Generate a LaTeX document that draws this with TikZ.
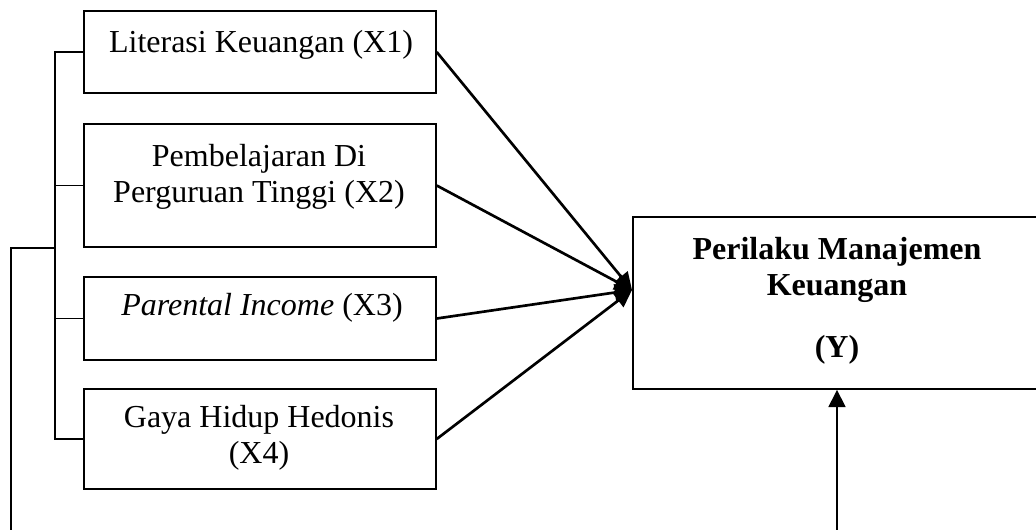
\documentclass[tikz,border=0pt]{standalone}
\usepackage{fontspec}
\setmainfont{Liberation Serif}
\usetikzlibrary{arrows.meta}

\tikzset{
  kotak/.style={draw, line width=1.1pt, inner sep=0pt, minimum width=264pt},
  teks/.style={font=\fontsize{24}{27}\selectfont, align=center, anchor=base, inner sep=0pt},
  panah/.style={line width=2pt, -{Triangle[length=13pt,width=12.5pt]}},
  garis/.style={line width=1.4pt}
}

\begin{document}
\begin{tikzpicture}[x=0.75pt, y=-0.75pt]
  \useasboundingbox (0,0) rectangle (1036,529);
  % kotak variabel X
  \node[kotak, minimum height=61.5pt] (x1) at (260,52) {};
  \node[kotak, minimum height=92.25pt] (x2) at (260,185.5) {};
  \node[kotak, minimum height=62.25pt] (x3) at (260,318.5) {};
  \node[kotak, minimum height=75pt] (x4) at (260,439) {};
  \node[teks] (t1) at (261,52) {Literasi Keuangan (X1)};
  \node[teks] (t2) at (259,202) {Pembelajaran Di\\Perguruan Tinggi (X2)};
  \node[teks] (t3) at (262,315) {\textit{Parental Income} (X3)};
  \node[teks] (t4) at (259,463) {Gaya Hidup Hedonis\\(X4)};
  % kotak Y
  \node[kotak, minimum width=306pt, minimum height=129pt] (y) at (837,303) {};
  \node[teks, font=\fontsize{24}{27}\selectfont\bfseries] (ty) at (837,357) %
    {Perilaku Manajemen\\Keuangan\\[19pt](Y)};
  % panah ke Y
  \coordinate (tip) at (632,290);
  \foreach \i in {1,...,4}
    \draw[panah] (x\i.east) -- (tip);
  \coordinate (bawahY) at (837,532);
  \draw[panah] (bawahY) -- (y.south);
  % kurung kiri
  \draw[garis] (x1.west) -- ++(-28,0) coordinate (atas) |- (x4.west);
  \draw[garis] (x2.west) -- (x2.west -| atas);
  \draw[garis] (x3.west) -- (x3.west -| atas);
  \coordinate (bawahX) at (11,532);
  \draw[garis] (bawahX) |- (x2.south -| atas);
\end{tikzpicture}
\end{document}
